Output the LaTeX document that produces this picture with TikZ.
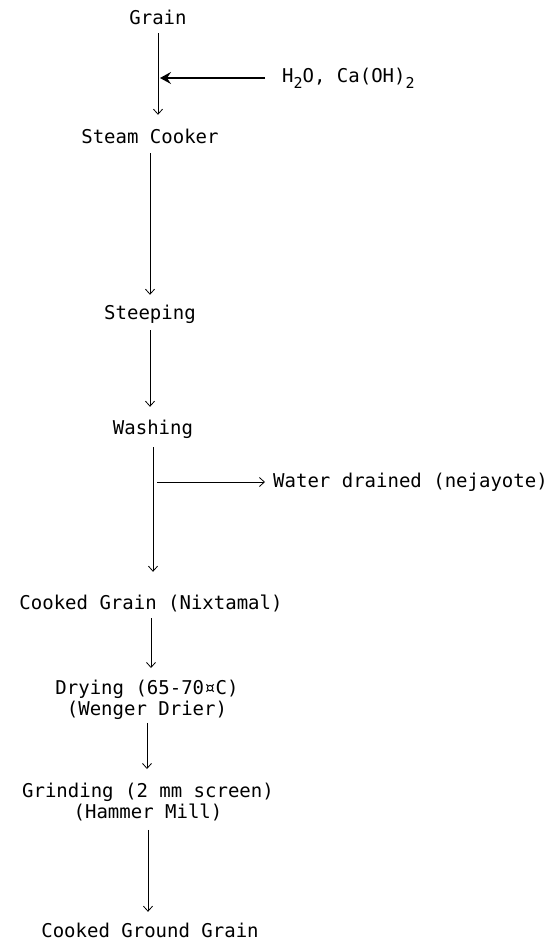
\documentclass[tikz,border=0pt]{standalone}
\usepackage{fontspec}
\usetikzlibrary{arrows.meta}
\newfontfamily\chartfont{DejaVu Sans Mono}
\newcommand{\dropnum}[1]{\raisebox{-6pt}{\fontsize{15}{15}\selectfont #1}}
\tikzset{
  step text/.style={font=\chartfont\fontsize{19}{21}\selectfont, inner sep=0pt,
    text height=14.5pt, text depth=4.5pt, anchor=base},
  two line/.style={font=\chartfont\fontsize{19}{21}\selectfont, inner sep=0pt,
    align=center, anchor=north},
  flow/.style={-{Straight Barb[length=5pt,width=9pt]}, line width=0.8pt,
    shorten <=5pt, shorten >=12pt},
  feed/.style={-{Stealth[length=11pt,width=12pt,inset=4pt]}, line width=1.6pt}
}
\begin{document}
\begin{tikzpicture}[x=1pt,y=-1pt]
  \useasboundingbox (0,0) rectangle (551,941);
  % process steps, top to bottom
  \node[step text] (grain)  at (158,25)  {Grain};
  \node[step text] (steam)  at (150,144) {Steam Cooker};
  \node[step text] (steep)  at (150,319) {Steeping};
  \node[step text] (wash)   at (153,434) {Washing};
  \node[step text] (nixt)   at (151,609) {Cooked Grain (Nixtamal)};
  \node[two line]  (dry)    at (147,679.5) {Drying (65-70¤C)\\(Wenger Drier)};
  \node[two line]  (grind)  at (148,782.5) {Grinding (2 mm screen)\\(Hammer Mill)};
  \node[step text] (ground) at (150,937) {Cooked Ground Grain};
  % side streams
  \node[step text, anchor=base west] (lime) at (282,83)
    {H\dropnum{2}O, Ca(OH)\dropnum{2}};
  \node[step text, anchor=base west] (drained) at (273,487) {Water drained (nejayote)};
  \coordinate (feedto) at (160,78);
  \coordinate (drainfrom) at (157,482);
  % main flow
  \draw[flow, shorten <=3.5pt, shorten >=14.5pt] (grain.south) -- (grain.south |- steam.north);
  \draw[flow, shorten <=4.5pt, shorten >=9.5pt] (steam.south) -- (steam.south |- steep.north);
  \draw[flow, shorten <=6.5pt, shorten >=12.5pt] (steep.south) -- (steep.south |- wash.north);
  \draw[flow, shorten <=8.5pt, shorten >=22.5pt] (wash.south) -- (wash.south |- nixt.north);
  \draw[flow, shorten <=4.5pt, shorten >=11.5pt] (nixt.south) -- (nixt.south |- dry.north);
  \draw[flow, shorten <=3.5pt, shorten >=13.5pt] (dry.south) -- (dry.south |- grind.north);
  \draw[flow, shorten <=9pt, shorten >=10.5pt] (grind.south) -- (grind.south |- ground.north);
  % lime water in, nejayote out
  \draw[feed, shorten <=17pt] (lime.west) -- (feedto);
  \draw[flow, shorten <=0pt, shorten >=8pt] (drainfrom) -- (drained.west);
\end{tikzpicture}
\end{document}
